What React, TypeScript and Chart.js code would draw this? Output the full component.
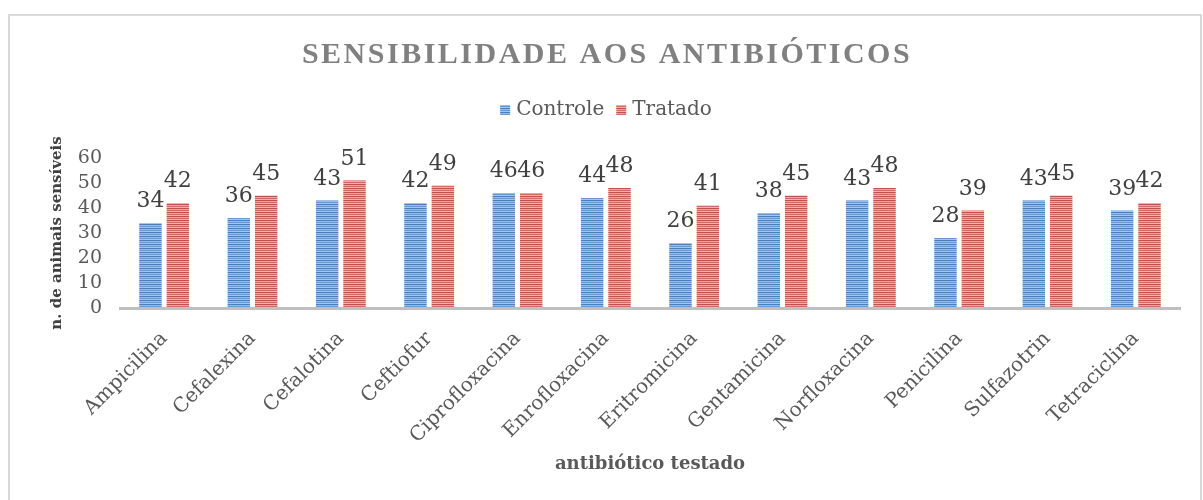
import React, { useEffect, useRef } from 'react';
import { Chart, registerables } from 'chart.js';

Chart.register(...registerables);

const categories = ['Ampicilina', 'Cefalexina', 'Cefalotina', 'Ceftiofur', 'Ciprofloxacina', 'Enrofloxacina', 'Eritromicina', 'Gentamicina', 'Norfloxacina', 'Penicilina', 'Sulfazotrin', 'Tetraciclina'];
const controle = [34, 36, 43, 42, 46, 44, 26, 38, 43, 28, 43, 39];
const tratado = [42, 45, 51, 49, 46, 48, 41, 45, 48, 39, 45, 42];
const seriesNames = ['Controle', 'Tratado'];
const yMin = 0;
const yMax = 60;
const yStep = 10;
const chartTitle = 'SENSIBILIDADE AOS ANTIBIÓTICOS';
const yTitle = 'n. de animais sensíveis';
const xTitle = 'antibiótico testado';

const SERIF = '"DejaVu Serif", serif';

function stripe(colors: string[]) {
  const c = document.createElement('canvas');
  c.width = 4;
  c.height = colors.length;
  const ctx = c.getContext('2d')!;
  colors.forEach((col, i) => {
    ctx.fillStyle = col;
    ctx.fillRect(0, i, 4, 1);
  });
  return ctx.createPattern(c, 'repeat')!;
}

export default function App() {
  const ref = useRef<HTMLCanvasElement | null>(null);

  useEffect(() => {
    const canvas = ref.current;
    if (!canvas) return;
    const bluePat = stripe(['#4a7dbb', '#9dbbe2', '#6a96cf', '#a9c4e6']);
    const redPat = stripe(['#c0504d', '#e9a5a3', '#d06a67', '#eeb3b1']);

    const framePlugin = {
      id: 'frame',
      beforeDraw(chart: any) {
        const ctx = chart.ctx;
        ctx.save();
        ctx.fillStyle = '#ffffff';
        ctx.fillRect(0, 0, chart.width, chart.height);
        ctx.strokeStyle = '#d9d9d9';
        ctx.lineWidth = 2;
        ctx.strokeRect(9, 15, 1192, 600);
        ctx.restore();
      },
    };

    const headerPlugin = {
      id: 'header',
      afterDraw(chart: any) {
        const ctx = chart.ctx;
        const cx = 606;
        ctx.save();
        ctx.fillStyle = '#808080';
        ctx.font = 'bold 30px "Liberation Serif", serif';
        (ctx as any).letterSpacing = '2.5px';
        ctx.textAlign = 'center';
        ctx.textBaseline = 'alphabetic';
        ctx.fillText(chartTitle, cx + 1, 63);
        (ctx as any).letterSpacing = '0px';

        // legend
        ctx.font = '20px ' + SERIF;
        ctx.textAlign = 'left';
        ctx.textBaseline = 'middle';
        const box = 10;
        const gapText = 6;
        const gapItem = 12;
        const items = chart.data.datasets.map((d: any) => ({ label: d.label, color: d.backgroundColor }));
        const widths = items.map((it: any) => box + gapText + ctx.measureText(it.label).width);
        const total = widths.reduce((a: number, b: number) => a + b, 0) + gapItem * (items.length - 1);
        let x = cx - total / 2;
        const y = 110;
        items.forEach((it: any, i: number) => {
          ctx.fillStyle = it.color;
          ctx.fillRect(x, y - box / 2, box, box);
          ctx.fillStyle = '#595959';
          ctx.fillText(it.label, x + box + gapText, y);
          x += widths[i] + gapItem;
        });
        ctx.restore();
      },
    };

    const valuePlugin = {
      id: 'values',
      afterDatasetsDraw(chart: any) {
        const ctx = chart.ctx;
        ctx.save();
        ctx.fillStyle = '#404040';
        ctx.font = '22px ' + SERIF;
        ctx.textAlign = 'center';
        ctx.textBaseline = 'alphabetic';
        chart.data.datasets.forEach((ds: any, di: number) => {
          const meta = chart.getDatasetMeta(di);
          meta.data.forEach((el: any, i: number) => {
            ctx.fillText(String(ds.data[i]), el.x, el.y - 16);
          });
        });
        ctx.restore();
      },
    };

    const chart = new Chart(canvas, {
      type: 'bar',
      data: {
        labels: categories,
        datasets: [
          { label: seriesNames[0], data: controle, backgroundColor: bluePat as any, barPercentage: 0.82, categoryPercentage: 0.62 },
          { label: seriesNames[1], data: tratado, backgroundColor: redPat as any, barPercentage: 0.82, categoryPercentage: 0.62 },
        ],
      },
      options: {
        responsive: false,
        animation: false,
        layout: { padding: { top: 158, right: 23, left: 0, bottom: 0 } },
        plugins: {
          legend: { display: false },
          title: { display: false },
          tooltip: { enabled: false },
        },
        scales: {
          x: {
            grid: { display: false, drawTicks: false },
            border: { display: true, color: '#bfbfbf', width: 3 },
            ticks: {
              color: '#595959',
              font: { family: SERIF, size: 20 },
              maxRotation: 45,
              minRotation: 45,
              padding: 19,
              autoSkip: false,
            },
            title: {
              display: true,
              text: xTitle,
              color: '#595959',
              font: { family: SERIF, size: 18, weight: 'bold' },
              padding: { top: 0, bottom: 25 },
            },
            afterFit(scale: any) {
              scale.height = 192;
            },
          },
          y: {
            min: yMin,
            max: yMax,
            grid: { display: false, drawTicks: false },
            border: { display: false },
            ticks: {
              stepSize: yStep,
              autoSkip: false,
              color: '#595959',
              font: { family: SERIF, size: 19 },
              padding: 18,
            },
            title: {
              display: true,
              text: yTitle,
              color: '#404040',
              font: { family: SERIF, size: 15, weight: 'bold' },
              padding: { top: 48, bottom: 0 },
            },
            afterFit(scale: any) {
              scale.width = 120;
            },
          },
        },
      },
      plugins: [framePlugin, headerPlugin, valuePlugin],
    });

    return () => chart.destroy();
  }, []);

  return (
    <div style={{ position: 'absolute', left: 0, top: 0, width: 1203, height: 500 }}>
      <canvas ref={ref} width={1203} height={500} />
    </div>
  );
}
